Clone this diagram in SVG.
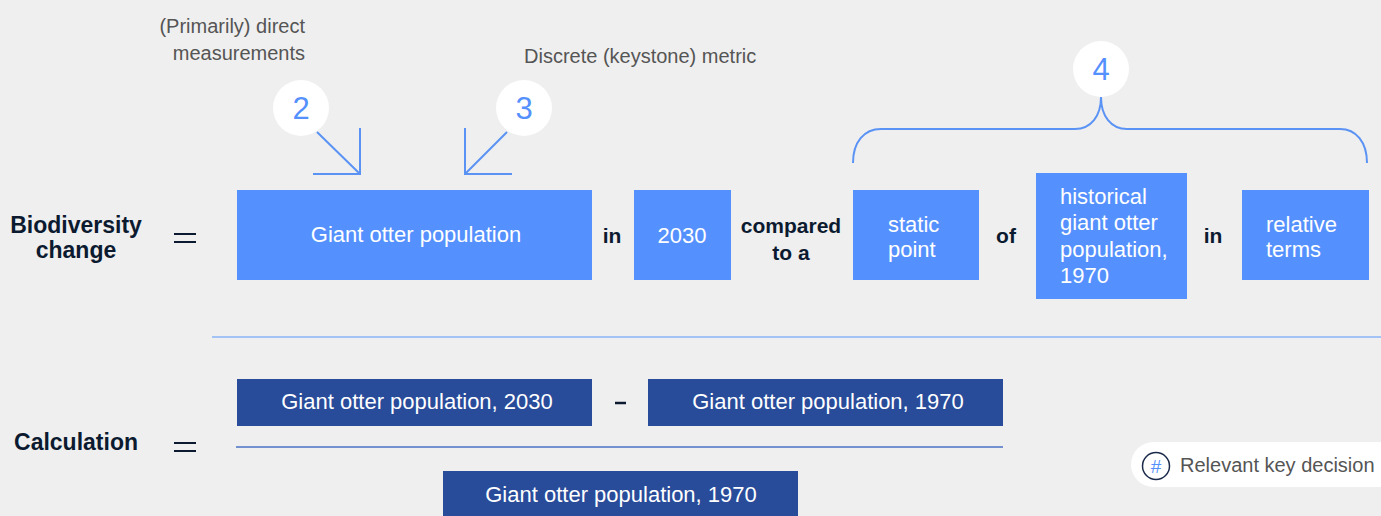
<svg xmlns="http://www.w3.org/2000/svg" width="1381" height="516" viewBox="0 0 1381 516">
<style>
.lbl{font-family:"Liberation Sans",Arial,sans-serif;font-weight:bold;font-size:21px;fill:#0c1a30}
.big{font-size:23px}
.bx{fill:#5591fe}
.dk{fill:#284b9a}
.bt{font-family:"Liberation Sans",Arial,sans-serif;font-size:22px;fill:#ffffff}
.gr{font-family:"Liberation Sans",Arial,sans-serif;font-size:20px;fill:#555555}
.num{font-family:"Liberation Sans",Arial,sans-serif;font-size:31px;fill:#5591fe;text-anchor:middle}
.ln{stroke:#5b93f5;stroke-width:2;fill:none}
.eq{stroke:#0c1a30;stroke-width:2}
</style>
<rect width="1381" height="516" fill="#efefef"/>

<g id="annotations">
<text class="gr" x="305" y="33" text-anchor="end">(Primarily) direct</text>
<text class="gr" x="305" y="60" text-anchor="end">measurements</text>
<text class="gr" x="524" y="63">Discrete (keystone) metric</text>
</g>

<g id="connectors">
<path class="ln" d="M317,132 L360,174 M360,128 L360,174 L313,174"/>
<path class="ln" d="M507,132 L465,174 M465,128 L465,174 L512,174"/>
<path class="ln" d="M853,163 C853,142 864,129 881,129 L1075,129 C1091,129 1101,116 1101,97 C1101,116 1111,129 1127,129 L1340,129 C1356,129 1367,142 1367,163"/>
</g>

<g id="badge2"><circle cx="301" cy="108" r="28" fill="#ffffff"/><text class="num" x="301" y="119">2</text></g>
<g id="badge3"><circle cx="524" cy="108" r="28" fill="#ffffff"/><text class="num" x="524" y="119">3</text></g>
<g id="badge4"><circle cx="1101" cy="69" r="28" fill="#ffffff"/><text class="num" x="1101" y="80">4</text></g>

<g id="label-biodiversity">
<text class="lbl big" x="76" y="233" text-anchor="middle">Biodiversity</text>
<text class="lbl big" x="76" y="258" text-anchor="middle">change</text>
<line class="eq" x1="174" y1="234" x2="196" y2="234"/>
<line class="eq" x1="174" y1="242" x2="196" y2="242"/>
</g>

<g id="node-population"><rect class="bx" x="237" y="190" width="355" height="90"/><text class="bt" x="416" y="242" text-anchor="middle">Giant otter population</text></g>
<g id="word-in1"><text class="lbl" x="612" y="243" text-anchor="middle">in</text></g>
<g id="node-2030"><rect class="bx" x="634" y="190" width="97" height="90"/><text class="bt" x="682" y="243" text-anchor="middle">2030</text></g>
<g id="word-compared"><text class="lbl" x="791" y="233" text-anchor="middle">compared</text><text class="lbl" x="791" y="260" text-anchor="middle">to a</text></g>
<g id="node-static"><rect class="bx" x="853" y="190" width="126" height="90"/><text class="bt" x="888" y="232">static</text><text class="bt" x="888" y="257">point</text></g>
<g id="word-of"><text class="lbl" x="1006" y="243" text-anchor="middle">of</text></g>
<g id="node-historical"><rect class="bx" x="1036" y="173" width="151" height="126"/><text class="bt" x="1060" y="204">historical</text><text class="bt" x="1060" y="230">giant otter</text><text class="bt" x="1060" y="257">population,</text><text class="bt" x="1060" y="283">1970</text></g>
<g id="word-in2"><text class="lbl" x="1213" y="243" text-anchor="middle">in</text></g>
<g id="node-relative"><rect class="bx" x="1242" y="190" width="127" height="90"/><text class="bt" x="1266" y="232">relative</text><text class="bt" x="1266" y="257">terms</text></g>

<g id="separator"><line x1="212" y1="337" x2="1381" y2="337" stroke="#8ab4f8" stroke-width="1.5"/></g>

<g id="label-calculation">
<text class="lbl big" x="76" y="450" text-anchor="middle">Calculation</text>
<line class="eq" x1="174" y1="443" x2="196" y2="443"/>
<line class="eq" x1="174" y1="451" x2="196" y2="451"/>
</g>
<g id="node-calc2030"><rect class="dk" x="237" y="379" width="355" height="47"/><text class="bt" x="417" y="409" text-anchor="middle">Giant otter population, 2030</text></g>
<g id="minus"><line x1="615" y1="403" x2="626" y2="403" stroke="#0c1a30" stroke-width="2.5"/></g>
<g id="node-calc1970"><rect class="dk" x="648" y="379" width="355" height="47"/><text class="bt" x="828" y="409" text-anchor="middle">Giant otter population, 1970</text></g>
<g id="fraction"><line x1="236" y1="447" x2="1003" y2="447" stroke="#4a72c4" stroke-width="1.5"/></g>
<g id="node-denominator"><rect class="dk" x="443" y="471" width="355" height="50"/><text class="bt" x="621" y="502" text-anchor="middle">Giant otter population, 1970</text></g>

<g id="legend">
<rect x="1131" y="442" width="270" height="45" rx="22.5" fill="#ffffff"/>
<circle cx="1156" cy="466" r="13.5" fill="none" stroke="#1a2a4a" stroke-width="1.5"/>
<text x="1156" y="473" text-anchor="middle" font-family="Liberation Sans, Arial, sans-serif" font-size="19" fill="#5591fe">#</text>
<text class="gr" x="1180" y="472">Relevant key decision</text>
</g>
</svg>
